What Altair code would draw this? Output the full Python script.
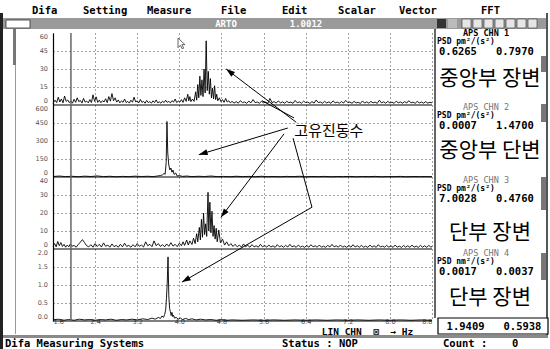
import math
import altair as alt
import pandas as pd

# ---------------- values ----------------
FREQ_TICKS = [1.6, 2.4, 3.2, 4.0, 4.8, 5.6, 6.4, 7.2, 8.0, 8.8]
CURSOR_HZ = 1.9409
PANEL_MAX = [60, 600, 40, 2.0]
PANEL_LABELS = [
    ["60", "45", "30", "15", "0"],
    ["600", "450", "300", "150", "0"],
    ["40", "30", "20", "10", "0"],
    ["2.0", "1.5", "1.0", "0.5", "0.0"],
]

# channel 1 : (Hz, PSD)
CH1 = [(1.60,1.5),(1.64,4.0),(1.67,2.0),(1.70,6.5),(1.73,2.5),(1.76,5.0),(1.79,1.8),(1.82,7.5),(1.85,3.0),(1.88,4.2),
       (1.91,2.0),(1.94,3.5),(1.97,1.5),(2.00,4.8),(2.03,2.2),(2.06,6.0),(2.09,2.8),(2.12,3.8),(2.15,1.6),(2.18,5.5),
       (2.21,2.4),(2.24,3.2),(2.27,1.8),(2.30,4.5),(2.33,2.0),(2.36,8.5),(2.39,3.0),(2.42,6.8),(2.45,2.2),(2.48,4.0),
       (2.51,1.9),(2.54,3.6),(2.57,2.5),(2.60,5.2),(2.63,2.0),(2.66,7.0),(2.69,3.2),(2.72,9.5),(2.75,3.5),(2.78,6.0),
       (2.81,2.4),(2.84,4.2),(2.87,1.8),(2.90,3.5),(2.93,2.2),(2.96,5.0),(2.99,2.0),(3.02,3.0),(3.05,1.6),(3.08,4.0),
       (3.11,2.3),(3.14,6.5),(3.17,2.6),(3.20,3.4),(3.23,1.8),(3.26,4.6),(3.29,2.2),(3.32,3.0),(3.35,1.5),(3.38,3.8),
       (3.41,2.0),(3.44,2.8),(3.47,1.6),(3.50,3.5),(3.53,2.0),(3.56,4.2),(3.59,1.8),(3.62,2.6),(3.65,1.5),(3.68,3.2),
       (3.71,2.0),(3.74,4.0),(3.77,2.2),(3.80,3.0),(3.83,1.8),(3.86,3.6),(3.89,2.4),(3.92,5.0),(3.95,2.0),(3.98,3.2),
       (4.01,2.5),(4.04,4.5),(4.07,2.2),(4.10,6.0),(4.13,3.0),(4.16,9.0),(4.18,3.5),(4.20,7.0),(4.22,2.8),(4.25,5.0),
       (4.28,3.0),(4.31,11.0),(4.33,4.0),(4.35,17.0),(4.37,6.0),(4.39,24.0),(4.41,8.0),(4.43,21.0),(4.45,7.0),(4.47,30.0),
       (4.49,10.0),(4.51,53.5),(4.53,12.0),(4.55,28.0),(4.57,9.0),(4.59,22.0),(4.61,6.0),(4.63,14.0),(4.65,5.0),(4.67,16.0),
       (4.69,4.5),(4.71,9.0),(4.73,3.5),(4.76,6.0),(4.79,2.8),(4.82,4.5),(4.85,2.2),(4.88,5.5),(4.91,2.5),(4.94,3.5),
       (4.97,1.8),(5.00,3.0),(5.04,1.6),(5.08,2.8),(5.12,1.5),(5.16,3.6),(5.20,2.0),(5.24,2.6),(5.28,1.4),(5.32,3.2),
       (5.36,1.8),(5.40,4.5),(5.44,2.0),(5.48,2.5),(5.52,1.5),(5.56,3.0),(5.60,1.8),(5.64,2.4),(5.68,1.3),(5.72,5.5),
       (5.76,2.0),(5.80,2.8),(5.84,1.6),(5.88,3.4),(5.92,1.8),(5.96,2.6),(6.00,1.5),(6.04,3.0),(6.08,2.0),(6.12,2.4),
       (6.16,1.4),(6.20,3.8),(6.24,1.8),(6.28,2.6),(6.32,1.5),(6.36,3.2),(6.40,2.0),(6.44,2.4),(6.48,1.3),(6.52,2.8),
       (6.56,1.6),(6.60,4.2),(6.64,2.0),(6.68,2.5),(6.72,1.5),(6.76,3.0),(6.80,1.7),(6.84,2.6),(6.88,1.4),(6.92,3.5),
       (6.96,1.8),(7.00,2.4),(7.04,1.5),(7.08,2.8),(7.12,1.6),(7.16,3.8),(7.20,2.0),(7.24,2.5),(7.28,1.4),(7.32,3.0),
       (7.36,1.8),(7.40,2.2),(7.44,1.3),(7.48,3.4),(7.52,1.6),(7.56,2.6),(7.60,1.5),(7.64,3.0),(7.68,1.8),(7.72,2.4),
       (7.76,1.4),(7.80,4.0),(7.84,1.8),(7.88,2.6),(7.92,1.5),(7.96,3.0),(8.00,1.7),(8.04,2.4),(8.08,1.4),(8.12,3.2),
       (8.16,1.8),(8.20,2.5),(8.24,1.5),(8.28,2.8),(8.32,1.6),(8.36,3.6),(8.40,1.8),(8.44,2.4),(8.48,1.4),(8.52,3.0),
       (8.56,1.7),(8.60,2.5),(8.64,1.5),(8.68,2.8),(8.72,1.6),(8.76,2.2),(8.80,1.8)]

# channel 2
CH2 = [(1.60,4),(1.72,8),(1.84,3),(1.96,6),(2.08,2),(2.20,7),(2.32,4),(2.44,9),(2.56,3),(2.68,6),(2.80,2),(2.92,5),
       (3.04,3),(3.16,7),(3.28,4),(3.40,6),(3.50,3),(3.58,8),(3.64,12),(3.68,18),(3.71,30),(3.73,22),(3.75,120),
       (3.765,462),(3.78,200),(3.80,100),(3.82,60),(3.84,75),(3.86,40),(3.88,58),(3.90,22),(3.93,33),(3.96,8),
       (4.00,12),(4.06,5),(4.14,8),(4.24,3),(4.36,6),(4.48,4),(4.60,8),(4.72,3),(4.84,5),(4.96,2),(5.08,6),(5.20,3),
       (5.32,5),(5.44,2),(5.56,6),(5.68,3),(5.80,4),(5.92,2),(6.04,5),(6.16,3),(6.28,6),(6.40,2),(6.52,4),(6.64,3),
       (6.76,5),(6.88,2),(7.00,4),(7.12,3),(7.24,5),(7.36,2),(7.48,4),(7.60,3),(7.72,5),(7.84,2),(7.96,4),(8.08,3),
       (8.20,5),(8.32,2),(8.44,4),(8.56,3),(8.68,4),(8.80,2)]

# channel 3
CH3 = [(1.60,1.5),(1.63,3.0),(1.66,1.2),(1.69,4.2),(1.72,1.8),(1.75,3.6),(1.78,1.4),(1.81,2.6),(1.84,1.0),(1.87,2.2),
       (1.90,1.2),(1.93,2.8),(1.96,1.5),(2.00,2.0),(2.04,1.0),(2.08,2.5),(2.12,3.8),(2.16,5.2),(2.20,3.5),(2.24,1.8),
       (2.28,1.2),(2.32,2.4),(2.36,1.0),(2.40,3.0),(2.44,1.4),(2.48,2.6),(2.52,1.1),(2.56,3.4),(2.60,1.5),(2.64,2.2),
       (2.68,1.0),(2.72,2.8),(2.76,1.3),(2.80,2.0),(2.84,1.0),(2.88,2.6),(2.92,1.2),(2.96,3.2),(3.00,1.4),(3.04,2.0),
       (3.08,1.0),(3.12,2.4),(3.16,1.2),(3.20,3.0),(3.24,1.5),(3.28,2.2),(3.32,1.1),(3.36,4.0),(3.40,1.8),(3.44,2.6),
       (3.48,1.3),(3.52,4.5),(3.56,1.8),(3.60,3.0),(3.64,1.4),(3.68,2.4),(3.72,1.2),(3.76,2.8),(3.80,1.5),(3.84,3.5),
       (3.88,1.6),(3.92,2.6),(3.96,1.3),(4.00,3.2),(4.04,1.8),(4.07,4.0),(4.10,2.0),(4.14,5.0),(4.17,2.2),(4.20,4.5),
       (4.24,2.5),(4.27,6.0),(4.30,3.0),(4.33,8.5),(4.35,4.0),(4.38,12.0),(4.40,5.0),(4.42,16.5),(4.44,6.5),(4.46,20.0),
       (4.48,8.0),(4.50,14.0),(4.52,7.0),(4.545,31.5),(4.56,10.0),(4.58,26.0),(4.60,9.0),(4.62,21.0),(4.64,7.0),(4.66,13.0),
       (4.68,5.5),(4.70,11.5),(4.72,4.0),(4.75,10.5),(4.78,3.5),(4.82,5.5),(4.86,2.2),(4.90,4.0),(4.94,1.8),(4.98,3.0),
       (5.02,1.4),(5.06,2.6),(5.10,1.2),(5.14,2.2),(5.18,1.0),(5.22,2.8),(5.26,1.3),(5.30,2.0),(5.34,1.0),(5.38,2.4),
       (5.42,1.2),(5.46,1.8),(5.50,1.0),(5.54,2.6),(5.58,1.2),(5.62,2.0),(5.66,1.0),(5.70,2.2),(5.74,1.1),(5.78,1.8),
       (5.82,0.9),(5.86,2.4),(5.90,1.2),(5.94,1.8),(5.98,1.0),(6.02,2.0),(6.06,1.1),(6.10,2.6),(6.14,1.2),(6.18,1.8),
       (6.22,0.9),(6.26,2.2),(6.30,1.1),(6.34,1.6),(6.38,0.9),(6.42,2.0),(6.46,1.0),(6.50,2.4),(6.54,1.2),(6.58,1.8),
       (6.62,1.0),(6.66,2.2),(6.70,1.0),(6.74,1.6),(6.78,0.9),(6.82,2.0),(6.86,1.1),(6.90,2.6),(6.94,1.2),(6.98,1.8),
       (7.02,1.0),(7.06,2.2),(7.10,1.0),(7.14,1.6),(7.18,0.9),(7.22,2.0),(7.26,1.0),(7.30,2.4),(7.34,1.1),(7.38,1.8),
       (7.42,1.0),(7.46,2.0),(7.50,1.0),(7.54,1.6),(7.58,0.9),(7.62,2.2),(7.66,1.0),(7.70,1.8),(7.74,0.9),(7.78,2.4),
       (7.82,1.1),(7.86,1.6),(7.90,1.0),(7.94,2.0),(7.98,1.0),(8.02,1.8),(8.06,0.9),(8.10,2.2),(8.14,1.0),(8.18,1.6),
       (8.22,0.9),(8.26,2.0),(8.30,1.0),(8.34,1.8),(8.38,0.9),(8.42,2.2),(8.46,1.0),(8.50,1.6),(8.54,0.9),(8.58,2.0),
       (8.62,1.0),(8.66,1.8),(8.70,0.9),(8.74,2.0),(8.78,1.0),(8.80,1.4)]

# channel 4
CH4 = [(1.60,0.03),(1.70,0.05),(1.80,0.02),(1.90,0.04),(2.00,0.02),(2.10,0.05),(2.20,0.03),(2.30,0.04),(2.40,0.02),
       (2.50,0.04),(2.60,0.03),(2.70,0.05),(2.80,0.02),(2.90,0.04),(3.00,0.03),(3.10,0.05),(3.20,0.03),(3.30,0.06),
       (3.40,0.04),(3.48,0.08),(3.54,0.05),(3.60,0.10),(3.64,0.07),(3.67,0.14),(3.70,0.10),(3.72,0.18),(3.74,0.30),
       (3.755,0.62),(3.77,1.05),(3.785,1.78),(3.80,0.70),(3.815,0.35),(3.83,0.26),(3.845,0.15),(3.86,0.24),(3.875,0.12),
       (3.89,0.16),(3.91,0.08),(3.94,0.10),(3.98,0.05),(4.02,0.08),(4.06,0.04),(4.12,0.07),(4.18,0.04),(4.24,0.06),
       (4.32,0.03),(4.40,0.05),(4.50,0.03),(4.60,0.04),(4.70,0.02),(4.80,0.04),(4.90,0.02),(5.00,0.03),(5.20,0.02),
       (5.40,0.03),(5.60,0.02),(5.80,0.03),(6.00,0.02),(6.20,0.03),(6.40,0.02),(6.60,0.03),(6.80,0.02),(7.00,0.03),
       (7.20,0.02),(7.40,0.03),(7.60,0.02),(7.80,0.03),(8.00,0.02),(8.20,0.03),(8.40,0.02),(8.60,0.03),(8.80,0.02)]

NB = "\u00a0"
CHANNEL_HEADERS = ["APS CHN 1", "APS CHN 2", "APS CHN 3", "APS CHN 4"]
CHANNEL_UNITS = ["PSD pm²/(s²)", "PSD pm²/(s²)", "PSD pm²/(s²)", "PSD nm²/(s²)"]
CHANNEL_READOUTS = [["0.6265", "0.7970"], ["0.0007", "1.4700"], ["7.0028", "0.4760"], ["0.0017", "0.0037"]]
CHANNEL_NAMES = ["중앙부 장변", "중앙부 단변", "단부 장변", "단부 장변"]
CURSOR_READOUT = ["1.9409", "0.5938"]
MENU = ["Difa", "Setting", "Measure", "File", "Edit", "Scalar", "Vector", "FFT"]
WINDOW_TITLE = ["ARTO", "1.0012"]
STATUS = ["Difa Measuring Systems", "Status : NOP", "Count :", "0"]
X_TITLE = "LIN CHN" + NB * 2 + "\u22a0" + NB * 2 + "\u2192 Hz"
CALLOUT = "고유진동수"
# callout geometry in (Hz, stacked panel unit)
CALLOUT_AT = (6.84, 2.64)
ARROWS = [(6.22, 2.76, 4.89, 3.50), (6.06, 2.68, 4.37, 2.31), (5.99, 2.60, 4.79, 1.44)]
PLAIN_LINE = (6.18, 2.82, 5.57, 3.06)
BENT_ARROW = [(6.16, 2.54), (6.52, 1.58), (4.05, 0.54)]
POINTER_AT = (3.975, 3.93)

# ---------------- layout ----------------
LEFT, TOP, W, H = 53, 33, 379, 288
RIGHT = 550 - LEFT - W
BOTTOM = 349 - TOP - H
PX_HZ = W / (FREQ_TICKS[-1] - FREQ_TICKS[0])
PX_U = H / 4.0
MONO = "DejaVu Sans Mono"
KR = "Noto Sans CJK KR"
ONE = pd.DataFrame({"k": [0]})


def px(x):
    return x - LEFT


def py(y):
    return y - TOP


def text(t, x, y, size=10, font=MONO, weight="bold", color="black", align="left"):
    return alt.Chart(ONE).mark_text(text=t, fontSize=size, font=font, fontWeight=weight,
                                    color=color, align=align, baseline="middle").encode(
        x=alt.value(px(x)), y=alt.value(py(y)))


def rect(x1, y1, x2, y2, fill, stroke=None, sw=1.0):
    kw = dict(fill=fill)
    if stroke:
        kw.update(stroke=stroke, strokeWidth=sw)
    return alt.Chart(ONE).mark_rect(**kw).encode(
        x=alt.value(px(x1)), x2=alt.value(px(x2)), y=alt.value(py(y1)), y2=alt.value(py(y2)))


def vline(x, y1, y2, color="black", sw=1.0):
    return alt.Chart(ONE).mark_rule(color=color, strokeWidth=sw).encode(
        x=alt.value(px(x)), y=alt.value(py(y1)), y2=alt.value(py(y2)))


xs = alt.Scale(domain=[FREQ_TICKS[0], FREQ_TICKS[-1]], nice=False, zero=False)
ys = alt.Scale(domain=[0, 4], nice=False, zero=False)

x_axis = alt.Axis(values=FREQ_TICKS, format=".1f", grid=True, gridColor="#444", gridDash=[1, 3],
                  gridWidth=1, domain=False, ticks=False, tickSize=0, labelFlush=True,
                  labelFont="DejaVu Sans", labelFontSize=6.5, labelColor="#555", labelPadding=0,
                  labelBaseline="middle", title=X_TITLE, titleFont=MONO, titleFontSize=9.5,
                  titleFontWeight="bold", titleColor="black", titleX=314, titleY=10,
                  titleBaseline="middle", titleAlign="center")
grid_u = [k + q for k in range(4) for q in (0.25, 0.5, 0.75)]
y_axis = alt.Axis(values=grid_u, grid=True, gridColor="#444", gridDash=[1, 3], gridWidth=1,
                  labels=False, ticks=False, domain=True, domainColor="black", domainWidth=1.2,
                  title=None)


def X(field):
    return alt.X(field, type="quantitative", scale=xs, axis=x_axis)


def Y(field):
    return alt.Y(field, type="quantitative", scale=ys, axis=y_axis)


# ---------------- spectra ----------------
rows = []
for i, (ch, mx) in enumerate(zip([CH1, CH2, CH3, CH4], PANEL_MAX)):
    for f, v in ch:
        rows.append({"panel": i, "hz": f, "u": 3 - i + v / mx})
trace = pd.DataFrame(rows)

lines = alt.Chart(trace).mark_line(color="black", strokeWidth=0.9).encode(
    x=X("hz"), y=Y("u"), detail="panel:N")

base_df = pd.DataFrame({"u": [0, 1, 2, 3], "a": FREQ_TICKS[0], "b": FREQ_TICKS[-1]})
baselines = alt.Chart(base_df).mark_rule(color="black", strokeWidth=1).encode(
    x=X("a"), x2="b:Q", y=Y("u"))

cursor = alt.Chart(pd.DataFrame({"hz": [CURSOR_HZ], "u0": [0], "u1": [4]})).mark_rule(
    color="#666", strokeWidth=1.5).encode(x=X("hz"), y=Y("u0"), y2="u1:Q")

# y labels
lab_rows = []
for i, labs in enumerate(PANEL_LABELS):
    for j, l in enumerate(labs):
        lab_rows.append({"t": l, "u": 3 - i + 1 - 0.25 * j, "pos": j})
lab_df = pd.DataFrame(lab_rows)


def ylab(df, dy):
    return alt.Chart(df).mark_text(align="right", baseline="middle", fontSize=6.5, font="DejaVu Sans",
                                   color="#555", dy=dy).encode(
        x=alt.value(-5), y=Y("u"), text="t:N")


ylabels = [ylab(lab_df[lab_df.pos == 0], 4), ylab(lab_df[(lab_df.pos > 0) & (lab_df.pos < 4)], 0),
           ylab(lab_df[lab_df.pos == 4], -4)]

# ---------------- callout ----------------
ar_df = pd.DataFrame(ARROWS, columns=["f1", "u1", "f2", "u2"])
arrow_lines = alt.Chart(ar_df).mark_rule(color="black", strokeWidth=1).encode(
    x=X("f1"), x2="f2:Q", y=Y("u1"), y2="u2:Q")
plain = alt.Chart(pd.DataFrame([PLAIN_LINE], columns=["f1", "u1", "f2", "u2"])).mark_rule(
    color="black", strokeWidth=1).encode(x=X("f1"), x2="f2:Q", y=Y("u1"), y2="u2:Q")
bent_df = pd.DataFrame([{"o": k, "hz": f, "u": u} for k, (f, u) in enumerate(BENT_ARROW)])
bent = alt.Chart(bent_df).mark_line(color="black", strokeWidth=1).encode(
    x=X("hz"), y=Y("u"), order="o:Q")

heads = []
segs = [tuple(a) for a in ARROWS] + [(BENT_ARROW[1][0], BENT_ARROW[1][1], BENT_ARROW[2][0], BENT_ARROW[2][1])]
for f1, u1, f2, u2 in segs:
    dx = (f2 - f1) * PX_HZ
    dy = -(u2 - u1) * PX_U
    ang = (math.degrees(math.atan2(dx, -dy)) + 360) % 360
    heads.append({"hz": f2, "u": u2, "ang": ang})
head_df = pd.DataFrame(heads)
arrow_heads = alt.Chart(head_df).mark_point(
    shape="M0,0 L-0.75,2.2 L0.75,2.2 Z", filled=True, color="black", size=64, opacity=1).encode(
    x=X("hz"), y=Y("u"), angle=alt.Angle("ang:Q", scale=None))

callout = alt.Chart(pd.DataFrame({"hz": [CALLOUT_AT[0]], "u": [CALLOUT_AT[1]], "t": [CALLOUT]})).mark_text(
    font=KR, fontSize=15, color="black", align="center", baseline="middle").encode(
    x=X("hz"), y=Y("u"), text="t:N")

pointer = alt.Chart(pd.DataFrame({"hz": [POINTER_AT[0]], "u": [POINTER_AT[1]]})).mark_point(
    shape="M0,0 L0,1.6 L0.4,1.2 L0.7,1.8 L0.95,1.7 L0.65,1.1 L1.15,1.1 Z", filled=True,
    fill="white", stroke="#444", strokeWidth=0.8, size=144, opacity=1).encode(x=X("hz"), y=Y("u"))

# ---------------- window chrome ----------------
chrome = []
menu_x = [32, 83, 147, 221, 282, 338, 399, 481]
for m, x in zip(MENU, menu_x):
    chrome.append(text(m, x, 11, size=10.5))
chrome.append(rect(3, 18, 548, 29, "#9a9a9a"))
chrome.append(rect(6, 20, 30, 28, "white", "#333", 0.8))
chrome.append(text(WINDOW_TITLE[0], 226, 23.5, size=9, color="white", align="center"))
chrome.append(text(WINDOW_TITLE[1], 306, 23.5, size=9, color="white", align="center"))
chrome.append(rect(437, 19, 446, 28, "#333"))
chrome.append(rect(448, 19, 457, 28, "#bbb"))
for bx in [462, 473, 484, 495, 506, 517, 528]:
    chrome.append(rect(bx, 19, bx + 9, 28, "#e6e6e6", "#333", 0.6))
chrome.append(rect(0, 13, 3, 349, "#222"))
chrome.append(vline(15.5, 29, 334, "#999", 1))
chrome.append(rect(13, 29, 16, 65, "#777"))
chrome.append(rect(546, 13, 548, 335, "#555"))
chrome.append(vline(435, 29, 318, "black", 1.2))
for y1, y2 in [(56, 72), (104, 122), (177, 210), (253, 280)]:
    chrome.append(rect(541, y1, 546, y2, "#777"))
panel_tops = [33, 107, 180, 253]
name_y = [79, 151, 233, 298]
for k in range(4):
    t0 = panel_tops[k]
    hc = "black" if k == 0 else "#777"
    chrome.append(text(CHANNEL_HEADERS[k], 486, t0, size=8.5, color=hc, align="center",
                       weight="bold" if k == 0 else "normal"))
    chrome.append(text(CHANNEL_UNITS[k], 437, t0 + 9, size=8))
    chrome.append(text((NB * 3).join(CHANNEL_READOUTS[k]), 439, t0 + 19, size=10.5))
    chrome.append(text(CHANNEL_NAMES[k], 490, name_y[k], size=21, font=KR, weight="normal", align="center"))
chrome.append(rect(438, 318, 548, 334, "white", "black", 1.2))
chrome.append(text((NB * 3).join(CURSOR_READOUT), 494, 326.5, size=10.5, align="center"))
chrome.append(rect(3, 335, 548, 338, "#8a8a8a"))
chrome.append(text(STATUS[0], 5, 344, size=10.5))
chrome.append(text(STATUS[1], 282, 344, size=10.5))
chrome.append(text(STATUS[2], 443, 344, size=10.5))
chrome.append(text(STATUS[3], 512, 344, size=10.5))

layers = [lines, baselines, cursor] + ylabels + [arrow_lines, plain, bent, arrow_heads, callout, pointer] + chrome

chart = alt.layer(*layers).properties(
    width=W, height=H,
    padding={"left": LEFT, "top": TOP, "right": RIGHT, "bottom": BOTTOM},
    autosize=alt.AutoSizeParams(type="none"),
    background="white",
).configure_view(stroke=None)

chart.save("out.html", embed_options={"renderer": "svg", "actions": False})
